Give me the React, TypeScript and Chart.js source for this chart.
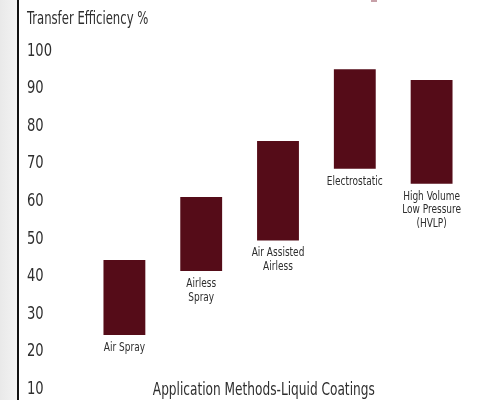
import React, { useEffect, useRef } from "react";
import { Chart, registerables } from "chart.js";

Chart.register(...registerables);

const categories = [
  "Air Spray",
  "Airless Spray",
  "Air Assisted Airless",
  "Electrostatic",
  "High Volume Low Pressure (HVLP)",
];
const categoryLines = [
  ["Air Spray"],
  ["Airless", "Spray"],
  ["Air Assisted", "Airless"],
  ["Electrostatic"],
  ["High Volume", "Low Pressure", "(HVLP)"],
];
const lowValues = [24.2, 41.2, 49.3, 68.4, 64.4];
const highValues = [44.1, 60.9, 75.8, 94.9, 92.0];
const yTitle = "Transfer Efficiency %";
const xTitle = "Application Methods-Liquid Coatings";

const FONT = '"Liberation Sans Narrow", "DejaVu Sans Condensed", "Arial Narrow", sans-serif';
const BAR_COLOR = "#550c18";
const TEXT_COLOR = "#2e2e2e";

function condensedText(
  ctx: CanvasRenderingContext2D,
  text: string,
  x: number,
  y: number,
  size: number,
  sx: number,
  align: CanvasTextAlign
) {
  ctx.save();
  ctx.font = `${size}px ${FONT}`;
  ctx.textAlign = align;
  ctx.textBaseline = "middle";
  ctx.translate(x, y);
  ctx.scale(sx, 1);
  ctx.fillText(text, 0, 0);
  ctx.restore();
}

const labelPlugin = {
  id: "catLabels",
  afterDatasetsDraw(chart: any) {
    const ctx = chart.ctx as CanvasRenderingContext2D;
    ctx.save();
    ctx.fillStyle = TEXT_COLOR;
    // category labels under each bar
    const meta = chart.getDatasetMeta(0);
    meta.data.forEach((bar: any, i: number) => {
      const p = bar.getProps(["x", "y", "base"], true);
      const bottom = Math.max(p.y, p.base);
      categoryLines[i].forEach((line, j) => {
        condensedText(ctx, line, p.x, bottom + 12.5 + j * 13.8, 12.5, 0.8, "center");
      });
    });
    // y tick labels from the y scale
    const yScale = chart.scales.y;
    yScale.ticks.forEach((t: any) => {
      const py = yScale.getPixelForValue(t.value);
      condensedText(ctx, String(t.value), 27, py + 1, 18, 0.81, "left");
    });
    // titles
    condensedText(ctx, yTitle, 27, 19, 18, 0.72, "left");
    const ca = chart.chartArea;
    condensedText(ctx, xTitle, ca.left + (ca.right - ca.left) * 0.463, ca.bottom + 2.5, 17, 0.795, "center");
    ctx.restore();
  },
};

export default function App() {
  const ref = useRef<HTMLCanvasElement | null>(null);
  useEffect(() => {
    if (!ref.current) return;
    const chart = new Chart(ref.current, {
      type: "bar",
      data: {
        labels: categories,
        datasets: [
          {
            data: lowValues.map((v, i) => [v, highValues[i]]) as any,
            backgroundColor: BAR_COLOR,
            borderWidth: 0,
            borderSkipped: false,
            categoryPercentage: 1,
            barPercentage: 0.545,
          },
        ],
      },
      options: {
        responsive: false,
        animation: false,
        layout: { padding: { left: 27, right: 23, top: 50, bottom: 11.7 } },
        plugins: {
          legend: { display: false },
          tooltip: { enabled: false },
          title: { display: false },
        },
        scales: {
          x: { display: false },
          y: {
            position: "left",
            min: 10,
            max: 100,
            grid: { display: false },
            border: { display: false },
            ticks: {
              display: false,
              stepSize: 10,
            },
            afterFit: (scale: any) => {
              scale.width = 59;
            },
          },
        },
      },
      plugins: [labelPlugin],
    });
    return () => chart.destroy();
  }, []);

  return (
    <div
      style={{
        position: "fixed",
        left: 0,
        top: 0,
        width: 493,
        height: 400,
        background: "#ffffff",
        overflow: "hidden",
      }}
    >
      <div
        style={{
          position: "absolute",
          left: 0,
          top: 0,
          width: 17,
          height: 400,
          background: "linear-gradient(90deg, #e9e9e9, #f3f3f3)",
        }}
      />
      <div
        style={{
          position: "absolute",
          left: 17,
          top: 0,
          width: 2,
          height: 400,
          background: "#111111",
        }}
      />
      <div
        style={{
          position: "absolute",
          left: 371,
          top: 0,
          width: 6,
          height: 2,
          background: "#c7a0a8",
        }}
      />
      <canvas
        ref={ref}
        width={493}
        height={400}
        style={{ position: "absolute", left: 0, top: 0 }}
      />
    </div>
  );
}
